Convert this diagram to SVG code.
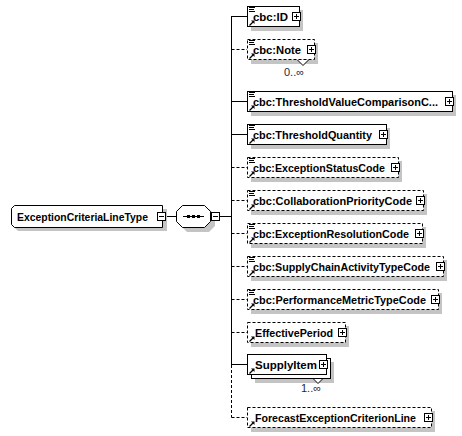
<svg xmlns="http://www.w3.org/2000/svg" xmlns:xlink="http://www.w3.org/1999/xlink" width="462" height="436" viewBox="0 0 462 436">
<style>
.box{fill:#fff;stroke:#000;stroke-width:1}
.opt{stroke-dasharray:3,2}
.sh{fill:#c4c4c4}
.t{font-family:"Liberation Sans",Arial,sans-serif;font-size:11.5px;font-weight:bold;fill:#000}
.m{font-family:"Liberation Sans",Arial,sans-serif;font-size:11px;fill:#1a2a40}
.ln{stroke:#000;stroke-width:1;fill:none}
.dl{stroke:#000;stroke-width:1;fill:none;stroke-dasharray:3,2}
</style>
<defs>
<g id="plus"><rect x="0.5" y="0.5" width="8" height="8" fill="#fff" stroke="#000"/><path d="M2 4.5H7M4.5 2V7" stroke="#000"/></g>
<g id="minus"><rect x="0.5" y="0.5" width="8" height="8" fill="#fff" stroke="#000"/><path d="M2 4.5H7" stroke="#000"/></g>
<g id="doc"><path d="M0 0.5H6M0 2.5H5M0 4.5H6" stroke="#000"/></g>
<g id="ref"><path d="M0.5 5.5L4 2" stroke="#000" stroke-width="1.3"/><polygon points="2,0.5 5.5,0.5 5.5,4" fill="#000"/></g>
</defs>

<g id="connectors">
<path class="ln" d="M166 216.5H176"/>
<path class="ln" d="M220 216.5H231.5"/>
<path class="ln" d="M231.5 16V365"/>
<path class="dl" d="M231.5 365V417.5"/>
<path class="ln" d="M231.5 16.5H247"/>
<path class="dl" d="M231.5 49.5H247"/>
<path class="ln" d="M231.5 101.5H247"/>
<path class="ln" d="M231.5 134.5H247"/>
<path class="dl" d="M231.5 167.5H247"/>
<path class="dl" d="M231.5 200.5H247"/>
<path class="dl" d="M231.5 233.5H247"/>
<path class="dl" d="M231.5 266.5H247"/>
<path class="dl" d="M231.5 299.5H247"/>
<path class="dl" d="M231.5 332.5H247"/>
<path class="ln" d="M231.5 364.5H247"/>
<path class="dl" d="M231.5 417.5H247"/>
</g>

<g id="root">
<path class="sh" d="M18 209H167V231H18L15 228V212Z"/>
<path class="box" d="M14.5 205.5H162.5V227.5H14.5L11.5 224.5V208.5Z"/>
<text class="t" x="17" y="220.5" textLength="131" lengthAdjust="spacingAndGlyphs">ExceptionCriteriaLineType</text>
<use xlink:href="#minus" x="157" y="212"/>
</g>

<g id="sequence">
<path class="sh" d="M187 209H209L215 215V226L209 232H187L181 226V215Z"/>
<path class="box" d="M182.5 205.5H204.5L210.5 211.5V221.5L204.5 227.5H182.5L176.5 221.5V211.5Z"/>
<path class="ln" d="M183 216.5H204"/>
<rect x="187" y="215" width="3" height="3" fill="#000"/>
<rect x="192" y="215" width="3" height="3" fill="#000"/>
<rect x="197" y="215" width="3" height="3" fill="#000"/>
<use xlink:href="#minus" x="211" y="212"/>
</g>

<g id="cbc-ID">
<rect class="sh" x="251" y="10" width="52" height="21"/>
<rect class="box" x="247.5" y="6.5" width="52" height="20"/>
<use xlink:href="#doc" x="249" y="7"/>
<use xlink:href="#ref" x="249" y="20"/>
<text class="t" x="253" y="20.5" textLength="35" lengthAdjust="spacingAndGlyphs">cbc:ID</text>
<use xlink:href="#plus" x="292" y="12"/>
</g>

<g id="cbc-Note">
<rect class="sh" x="251" y="43" width="67" height="21"/>
<rect class="box opt" x="247.5" y="39.5" width="67" height="20"/>
<use xlink:href="#doc" x="249" y="40"/>
<use xlink:href="#ref" x="249" y="53"/>
<text class="t" x="253" y="53.5" textLength="48" lengthAdjust="spacingAndGlyphs">cbc:Note</text>
<use xlink:href="#plus" x="307" y="45"/>
<path d="M297.5 60L303 65.5L308.5 60" fill="#fff" stroke="#000"/>
<text class="m" x="294" y="75.5" text-anchor="middle">0..∞</text>
</g>

<g id="cbc-ThresholdValueComparisonCode">
<rect class="sh" x="251" y="95" width="205" height="21"/>
<rect class="box" x="247.5" y="91.5" width="205" height="20"/>
<use xlink:href="#doc" x="249" y="92"/>
<use xlink:href="#ref" x="249" y="105"/>
<text class="t" x="253" y="105.5" textLength="185" lengthAdjust="spacingAndGlyphs">cbc:ThresholdValueComparisonC...</text>
<use xlink:href="#plus" x="445" y="97"/>
</g>

<g id="cbc-ThresholdQuantity">
<rect class="sh" x="251" y="128" width="139" height="21"/>
<rect class="box" x="247.5" y="124.5" width="139" height="20"/>
<use xlink:href="#doc" x="249" y="125"/>
<use xlink:href="#ref" x="249" y="138"/>
<text class="t" x="253" y="138.5" textLength="119" lengthAdjust="spacingAndGlyphs">cbc:ThresholdQuantity</text>
<use xlink:href="#plus" x="379" y="130"/>
</g>

<g id="cbc-ExceptionStatusCode">
<rect class="sh" x="251" y="161" width="151" height="21"/>
<rect class="box opt" x="247.5" y="157.5" width="151" height="20"/>
<use xlink:href="#doc" x="249" y="158"/>
<use xlink:href="#ref" x="249" y="171"/>
<text class="t" x="253" y="171.5" textLength="132" lengthAdjust="spacingAndGlyphs">cbc:ExceptionStatusCode</text>
<use xlink:href="#plus" x="391" y="163"/>
</g>

<g id="cbc-CollaborationPriorityCode">
<rect class="sh" x="251" y="194" width="176" height="21"/>
<rect class="box opt" x="247.5" y="190.5" width="176" height="20"/>
<use xlink:href="#doc" x="249" y="191"/>
<use xlink:href="#ref" x="249" y="204"/>
<text class="t" x="253" y="204.5" textLength="159" lengthAdjust="spacingAndGlyphs">cbc:CollaborationPriorityCode</text>
<use xlink:href="#plus" x="416" y="196"/>
</g>

<g id="cbc-ExceptionResolutionCode">
<rect class="sh" x="251" y="227" width="175" height="21"/>
<rect class="box opt" x="247.5" y="223.5" width="175" height="20"/>
<use xlink:href="#doc" x="249" y="224"/>
<use xlink:href="#ref" x="249" y="237"/>
<text class="t" x="253" y="237.5" textLength="156" lengthAdjust="spacingAndGlyphs">cbc:ExceptionResolutionCode</text>
<use xlink:href="#plus" x="415" y="229"/>
</g>

<g id="cbc-SupplyChainActivityTypeCode">
<rect class="sh" x="251" y="260" width="196" height="21"/>
<rect class="box opt" x="247.5" y="256.5" width="196" height="20"/>
<use xlink:href="#doc" x="249" y="257"/>
<use xlink:href="#ref" x="249" y="270"/>
<text class="t" x="253" y="270.5" textLength="177" lengthAdjust="spacingAndGlyphs">cbc:SupplyChainActivityTypeCode</text>
<use xlink:href="#plus" x="436" y="262"/>
</g>

<g id="cbc-PerformanceMetricTypeCode">
<rect class="sh" x="251" y="293" width="191" height="21"/>
<rect class="box opt" x="247.5" y="289.5" width="191" height="20"/>
<use xlink:href="#doc" x="249" y="290"/>
<use xlink:href="#ref" x="249" y="303"/>
<text class="t" x="253" y="303.5" textLength="173" lengthAdjust="spacingAndGlyphs">cbc:PerformanceMetricTypeCode</text>
<use xlink:href="#plus" x="431" y="295"/>
</g>

<g id="EffectivePeriod">
<rect class="sh" x="251" y="326" width="98" height="21"/>
<rect class="box opt" x="247.5" y="322.5" width="98" height="20"/>
<use xlink:href="#ref" x="249" y="336"/>
<text class="t" x="255" y="336.5" textLength="78" lengthAdjust="spacingAndGlyphs">EffectivePeriod</text>
<use xlink:href="#plus" x="338" y="328"/>
</g>

<g id="SupplyItem">
<rect class="sh" x="255" y="362" width="79" height="21"/>
<rect class="box" x="251.5" y="358.5" width="79" height="20"/>
<rect class="box" x="247.5" y="354.5" width="79" height="20"/>
<use xlink:href="#ref" x="249" y="368"/>
<text class="t" x="255" y="368.5" textLength="62" lengthAdjust="spacingAndGlyphs">SupplyItem</text>
<use xlink:href="#plus" x="319" y="360"/>
<path d="M313.5 379L318 383.5L322.5 379" fill="#fff" stroke="#000"/>
<text class="m" x="311" y="392" text-anchor="middle">1..∞</text>
</g>

<g id="ForecastExceptionCriterionLine">
<rect class="sh" x="251" y="411" width="184" height="21"/>
<rect class="box opt" x="247.5" y="407.5" width="184" height="20"/>
<use xlink:href="#ref" x="249" y="421"/>
<text class="t" x="255" y="421.5" textLength="161" lengthAdjust="spacingAndGlyphs">ForecastExceptionCriterionLine</text>
<use xlink:href="#plus" x="424" y="413"/>
</g>
</svg>
